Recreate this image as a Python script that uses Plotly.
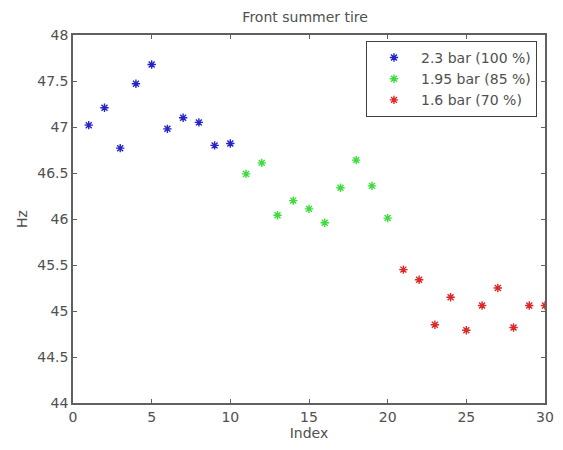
import plotly.graph_objects as go

# Measured natural frequency of the front summer tire at three inflation pressures
index_high = list(range(1, 11))
hz_high = [47.02, 47.21, 46.77, 47.47, 47.68, 46.98, 47.10, 47.05, 46.80, 46.82]

index_mid = list(range(11, 21))
hz_mid = [46.49, 46.61, 46.04, 46.20, 46.11, 45.96, 46.34, 46.64, 46.36, 46.01]

index_low = list(range(21, 31))
hz_low = [45.45, 45.34, 44.85, 45.15, 44.79, 45.06, 45.25, 44.82, 45.06, 45.06]

series_names = ["2.3 bar (100 %)", "1.95 bar (85 %)", "1.6 bar (70 %)"]
series_colors = ["#2424c8", "#3cdc3c", "#dc2828"]

x_ticks = [0, 5, 10, 15, 20, 25, 30]
y_ticks = [44, 44.5, 45, 45.5, 46, 46.5, 47, 47.5, 48]

FONT = "DejaVu Sans, Verdana, sans-serif"
TEXT_COLOR = "#505050"

fig = go.Figure()
for xs, ys, name, color in zip(
    [index_high, index_mid, index_low],
    [hz_high, hz_mid, hz_low],
    series_names,
    series_colors,
):
    fig.add_trace(
        go.Scatter(
            x=xs,
            y=ys,
            mode="markers",
            name=name,
            marker=dict(
                symbol="asterisk-open",
                size=7,
                color=color,
                line=dict(color=color, width=1.4),
            ),
        )
    )

axis_style = dict(
    showgrid=False,
    zeroline=False,
    showline=True,
    linecolor="#606060",
    linewidth=1.5,
    mirror="ticks",
    ticks="inside",
    ticklen=4,
    tickcolor="#606060",
    automargin=False,
    tickfont=dict(family=FONT, size=14, color=TEXT_COLOR),
)

fig.update_layout(
    width=563,
    height=450,
    paper_bgcolor="white",
    plot_bgcolor="white",
    margin=dict(l=73, r=18, t=35, b=47),
    title=dict(
        text="Front summer tire",
        x=0.542,
        xanchor="center",
        y=0.972,
        yanchor="top",
        font=dict(family=FONT, size=14, color=TEXT_COLOR),
    ),
    xaxis=dict(
        range=[0, 30],
        tickvals=x_ticks,
        title=dict(text="Index", standoff=1,
                   font=dict(family=FONT, size=14, color=TEXT_COLOR)),
        **axis_style,
    ),
    yaxis=dict(
        range=[44, 48],
        tickvals=y_ticks,
        ticktext=[f"{v:g}" for v in y_ticks],
        ticklabelstandoff=0,
        title=dict(text="Hz", standoff=6,
                   font=dict(family=FONT, size=14, color=TEXT_COLOR)),
        **axis_style,
    ),
    legend=dict(
        x=0.983,
        xanchor="right",
        y=0.984,
        yanchor="top",
        bgcolor="white",
        bordercolor="#404040",
        borderwidth=1,
        itemwidth=44,
        font=dict(family=FONT, size=14, color=TEXT_COLOR),
        tracegroupgap=0,
    ),
    showlegend=True,
)

fig.write_html("out.html")
